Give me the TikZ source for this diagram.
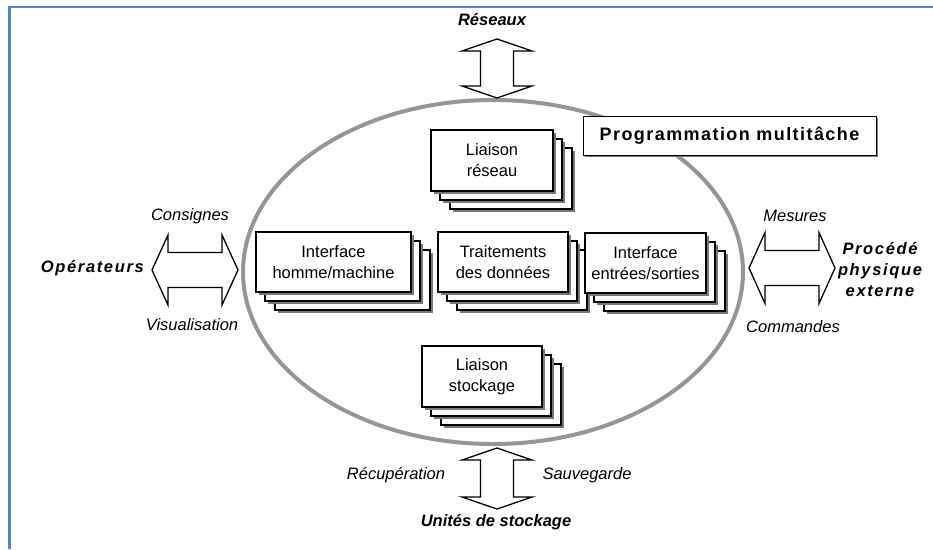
\documentclass[tikz,border=0pt]{standalone}
\usepackage{fontspec}
\setmainfont{Liberation Sans}
\newfontfamily\spacedfont[LetterSpace=10]{Liberation Sans}
\newfontfamily\titlefont[LetterSpace=8]{Liberation Sans}
\usetikzlibrary{shadows}
\definecolor{frameblue}{RGB}{84,134,196}
\definecolor{ellgray}{RGB}{150,150,150}
\definecolor{shadgray}{RGB}{120,120,120}
\tikzset{
  txt/.style={font=\fontsize{16.5}{21}\selectfont, inner sep=0pt, align=center},
  lbl/.style={font=\fontsize{16.5}{21}\selectfont\itshape, inner sep=0pt},
  blbl/.style={font=\fontsize{16.5}{21}\selectfont\bfseries\itshape, inner sep=0pt, align=center},
  card/.style={draw, fill=white, line width=1.3pt, inner sep=0pt,
    font=\fontsize{16.5}{21}\selectfont, align=center,
    drop shadow={shadow xshift=3pt, shadow yshift=-3pt, fill=shadgray, opacity=1}},
  arrowshape/.style={draw=black, fill=white, line width=1.3pt, line join=miter},
}
\newcommand{\dblH}[6]{% x1 x2 cy headlen headhalf shafthalf
  \draw[arrowshape] (#1,#3) -- (#1+#4,#3-#5) -- (#1+#4,#3-#6) -- (#2-#4,#3-#6)
    -- (#2-#4,#3-#5) -- (#2,#3) -- (#2-#4,#3+#5) -- (#2-#4,#3+#6)
    -- (#1+#4,#3+#6) -- (#1+#4,#3+#5) -- cycle;}
\newcommand{\dblV}[6]{% y1 y2 cx headlen headhalf shafthalf
  \draw[arrowshape] (#3,#1) -- (#3-#5,#1+#4) -- (#3-#6,#1+#4) -- (#3-#6,#2-#4)
    -- (#3-#5,#2-#4) -- (#3,#2) -- (#3+#5,#2-#4) -- (#3+#6,#2-#4)
    -- (#3+#6,#1+#4) -- (#3+#5,#1+#4) -- cycle;}
\newcommand{\stackcard}[6]{% name cx cy w h text
  \node[card, minimum width=#4pt, minimum height=#5pt] (#1-c) at (#2+19,#3+18) {};
  \node[card, minimum width=#4pt, minimum height=#5pt] (#1-b) at (#2+9,#3+9) {};
  \node[card, minimum width=#4pt, minimum height=#5pt] (#1) at (#2,#3) {#6};}
\begin{document}
\begin{tikzpicture}[x=1pt, y=-1pt]
\useasboundingbox (0,0) rectangle (933,549);
\fill[white] (0,0) rectangle (933,549);
% frame
\draw[frameblue, line width=2.2pt] (9.5,549) -- (9.5,7) -- (933,7);
% ellipse
\draw[ellgray, line width=4pt] (493,272) ellipse [x radius=250, y radius=172];
% cards
\stackcard{reseau}{492}{160.5}{122}{61}{Liaison\\réseau}
\stackcard{ihm}{333.5}{262}{155}{60}{Interface\\homme/machine}
\stackcard{trait}{503}{262}{130}{60}{Traitements\\des données}
\stackcard{ies}{645.5}{263}{121}{60}{Interface\\entrées/sorties}
\stackcard{stock}{482}{376.5}{120}{61}{Liaison\\stockage}
% title box
\node[draw, fill=white, line width=1pt, minimum width=293pt, minimum height=39pt,
  inner sep=0pt, drop shadow={shadow xshift=1.5pt, shadow yshift=-1.5pt, fill=shadgray, opacity=1},
  font=\fontsize{18}{21}\selectfont\titlefont\bfseries] (title) at (729.5,135.5) {Programmation multitâche};
% arrows
\dblV{39}{98}{497}{12}{35}{16.5}
\dblV{448}{509}{497}{12}{35}{16.5}
\dblH{152}{238}{270}{16}{35}{17.5}
\dblH{749}{835}{268}{16}{35.5}{17.5}
% labels
\node[blbl] (res) at (492,20) {Réseaux};
\node[lbl] (cons) at (190,216) {Consignes};
\node[lbl] (visu) at (192,325) {Visualisation};
\node[blbl, anchor=east, font=\fontsize{16.5}{21}\selectfont\spacedfont\bfseries\itshape] (oper) at (144,268) {Opérateurs};
\node[lbl] (mes) at (795,216) {Mesures};
\node[lbl] (com) at (793,327) {Commandes};
\node[blbl, font=\fontsize{16.5}{21}\selectfont\spacedfont\bfseries\itshape] (proc) at (880,270) {Procédé\\physique\\externe};
\node[lbl] (recup) at (396,475) {Récupération};
\node[lbl] (sauv) at (587,475) {Sauvegarde};
\node[blbl] (unit) at (496,522) {Unités de stockage};
\end{tikzpicture}
\end{document}
